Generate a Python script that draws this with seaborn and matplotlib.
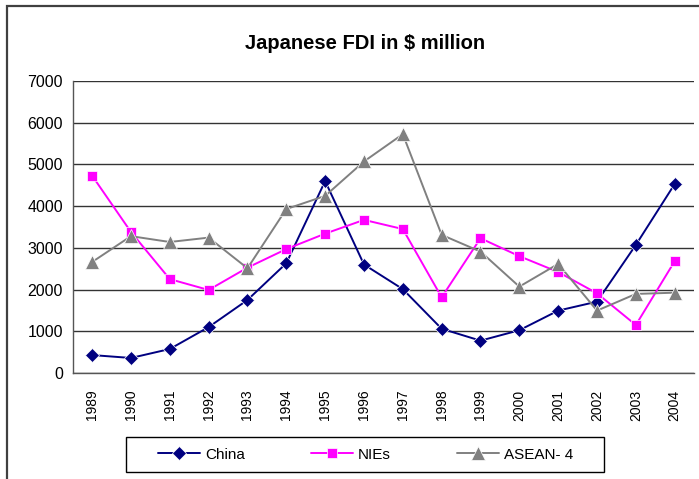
import seaborn as sns
import matplotlib.pyplot as plt
import pandas as pd
from matplotlib.patches import Rectangle

sns.set_style('white')
plt.rcParams['font.family'] = ['Liberation Sans', 'DejaVu Sans']
plt.rcParams['text.color'] = 'black'
plt.rcParams['xtick.color'] = 'black'
plt.rcParams['ytick.color'] = 'black'
plt.rcParams['xtick.labelcolor'] = 'black'
plt.rcParams['ytick.labelcolor'] = 'black'

years = list(range(1989, 2005))
china = [430, 360, 575, 1100, 1750, 2630, 4600, 2600, 2010, 1060, 775, 1025, 1495, 1710, 3070, 4530]
nies = [4730, 3380, 2250, 1990, 2525, 2970, 3340, 3670, 3450, 1815, 3230, 2800, 2420, 1910, 1150, 2680]
asean = [2660, 3280, 3140, 3245, 2510, 3930, 4245, 5070, 5725, 3310, 2910, 2070, 2615, 1495, 1895, 1925]

df = pd.DataFrame({'Year': years * 3,
                   'FDI': china + nies + asean,
                   'Region': ['China'] * 16 + ['NIEs'] * 16 + ['ASEAN- 4'] * 16})

palette = {'China': '#000080', 'NIEs': '#FF00FF', 'ASEAN- 4': '#808080'}
markers = {'China': 'D', 'NIEs': 's', 'ASEAN- 4': '^'}

fig = plt.figure(figsize=(6.99, 4.79), dpi=100)
ax = fig.add_axes([0.104, 0.2213, 0.889, 0.6097])

sns.lineplot(data=df, x='Year', y='FDI', hue='Region', style='Region',
             palette=palette, markers=markers, dashes=False, markersize=7,
             markeredgewidth=0.5, linewidth=1.4, ax=ax)
# triangles look bigger in the original
for line in ax.lines:
    if line.get_marker() == '^':
        line.set_markersize(9.5)

ax.set_xlim(1988.5, 2004.5)
ax.set_ylim(0, 7000)
ax.set_yticks(range(0, 7001, 1000))
ax.set_xticks(years)
ax.set_xticklabels([str(y) for y in years], rotation=90, fontsize=10)
ax.set_xticks([1988.5 + k for k in range(17)], minor=True)
ax.tick_params(axis='x', which='major', length=0, pad=12)
ax.tick_params(axis='x', which='minor', length=5, direction='inout', width=0.8, color='#555555')
ax.tick_params(axis='y', length=4, direction='out', width=0.8, labelsize=11.5, pad=3, color='#555555')
ax.grid(axis='y', color='#333333', linewidth=1.0)
ax.set_axisbelow(True)
ax.set_xlabel('')
ax.set_ylabel('')
for s in ['top', 'right']:
    ax.spines[s].set_visible(False)
for s in ['left', 'bottom']:
    ax.spines[s].set_color('#555555')
    ax.spines[s].set_linewidth(1.0)

fig.text(0.522, 0.910, 'Japanese FDI in $ million', ha='center', va='center',
         fontsize=14.5, fontweight='bold', color='black')

ax.legend_.remove()
handles, labels = ax.get_legend_handles_labels()
for h in handles:
    if h.get_marker() == '^':
        h.set_markersize(9.5)
leg = fig.legend(handles, labels, loc='center', bbox_to_anchor=(0.523, 0.0511), ncol=3,
                 fontsize=11, frameon=False, handlelength=2.75,
                 columnspacing=4.3, handletextpad=0.33, labelcolor='black')

# legend box and outer chart border
fig.patches.append(Rectangle((126 / 699, 1 - 472 / 479), 478 / 699, 35 / 479,
                             transform=fig.transFigure, fill=False,
                             edgecolor='black', linewidth=1.0))
fig.patches.append(Rectangle((7 / 699, -0.01), 1.0, 1 - 6 / 479 + 0.01,
                             transform=fig.transFigure, fill=False,
                             edgecolor='#404040', linewidth=1.6))

fig.savefig('out.png', dpi=100)
